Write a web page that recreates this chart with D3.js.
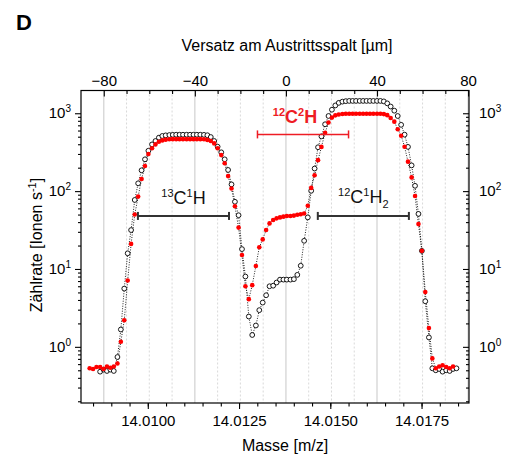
<!DOCTYPE html>
<html>
<head>
<meta charset="utf-8">
<script src="https://cdn.jsdelivr.net/npm/d3@7"></script>
<style>
  body { margin: 0; background: #fff; }
  text { font-family: "Liberation Sans", Arial, sans-serif; }
</style>
</head>
<body>
<svg id="chart" width="508" height="459"></svg>
<script>
// sample positions: offset at exit slit [µm]
var offsets = [
  -86.2, -84.7, -83.2, -81.6, -80.1, -78.6, -77.1, -75.6, -74.0, -72.5,
  -71.0, -69.5, -68.0, -66.4, -64.9, -63.4, -61.9, -60.4, -58.8, -57.3,
  -55.8, -54.3, -52.8, -51.2, -49.7, -48.2, -46.7, -45.2, -43.6, -42.1,
  -40.6, -39.1, -37.6, -36.0, -34.5, -33.0, -31.5, -30.0, -28.4, -26.9,
  -25.4, -23.9, -22.4, -20.8, -19.3, -17.8, -16.3, -14.8, -13.2, -11.7,
  -10.2, -8.7, -7.2, -5.6, -4.1, -2.6, -1.1, 0.4, 2.0, 3.5,
  5.0, 6.5, 8.0, 9.6, 11.1, 12.6, 14.1, 15.6, 17.2, 18.7,
  20.2, 21.7, 23.2, 24.8, 26.3, 27.8, 29.3, 30.8, 32.4, 33.9,
  35.4, 36.9, 38.4, 40.0, 41.5, 43.0, 44.5, 46.0, 47.6, 49.1,
  50.6, 52.1, 53.6, 55.2, 56.7, 58.2, 59.7, 61.2, 62.8, 64.3,
  65.8, 67.3, 68.8, 70.4, 71.9, 73.4, 74.9
];

// open black circles
var black = [
  null, null, null, 0.48, 0.51, 0.49, 0.51, 0.49, 0.74, 1.67,
  5.6, 15.9, 31.6, 77, 126, 185, 256, 330, 398, 440,
  486, 511, 520, 525, 528, 530, 530, 530, 530, 530,
  530, 530, 530, 528, 522, 495, 440, 372, 315, 256,
  187, 122, 73, 49, 18, 8.0, 2.45, 1.42, 1.88, 2.96,
  3.7, 4.6, 6.0, 6.1, 6.7, 7.3, 7.3, 7.3, 7.3, 7.4,
  8.4, 11, 23, 46, 101, 195, 366, 505, 722, 922,
  1110, 1260, 1360, 1410, 1430, 1440, 1440, 1440, 1440, 1440,
  1440, 1440, 1440, 1440, 1440, 1420, 1340, 1220, 1079, 922,
  710, 531, 370, 214, 117, 51, 17.1, 3.85, 1.32, 0.53,
  0.50, 0.52, 0.48, 0.50, 0.49, 0.52, 0.53
];

// filled red circles
var red = [
  0.53, 0.52, 0.55, 0.55, 0.52, 0.56, 0.54, 0.56, 0.61, 1.16,
  2.2, 7.1, 21, 50, 85, 143, 210, 300, 355, 398,
  431, 448, 458, 463, 465, 465, 465, 465, 465, 465,
  465, 465, 465, 463, 455, 440, 410, 355, 290, 228,
  156, 108, 64, 34, 15.1, 6.0, 4.1, 6.2, 10.9, 19,
  24, 31.6, 38.5, 42.5, 44.7, 46, 47, 48, 48, 48.5,
  49.7, 50.5, 51.5, 65, 110, 160, 250, 370, 560, 760,
  880, 940, 965, 978, 985, 985, 985, 985, 985, 985,
  985, 985, 985, 985, 985, 975, 945, 870, 780, 622,
  515, 372, 239, 150, 86.5, 37.7, 17.1, 5.05, 1.74, 0.71,
  0.53, 0.56, 0.58, 0.55, 0.53, 0.56, null
];

var offsetTicks = [-80, -40, 0, 40, 80];
var massTicks = [14.0100, 14.0125, 14.0150, 14.0175];
var decades = [1, 10, 100, 1000];

// resolution bars: start/end offset [µm], count level
var barFrom = [-65, -12.5, 14];
var barTo = [-25, 27.5, 54];
var barLevel = [48, 535, 48];

(function () {
  var svg = d3.select("#chart"),
      x0 = 81, x1 = 469, y0 = 90.5, y1 = 403;

  var x = d3.scaleLinear().domain([-90, 80.4]).range([x0, x1]);
  var xMass = d3.scaleLinear().domain([14.00817, 14.01880]).range([x0, x1]);
  var y = d3.scaleLog().domain([0.19, 1960]).range([y1, y0]);

  // vertical grid from the offset axis
  var gridVals = d3.range(-80, 81, 10);
  svg.append("g").selectAll("line")
    .data(gridVals)
    .enter().append("line")
      .attr("x1", function(d) { return x(d); })
      .attr("x2", function(d) { return x(d); })
      .attr("y1", y0).attr("y2", y1)
      .attr("stroke", function(d) { return d % 40 === 0 ? "#d4d4d4" : "#cfcfcf"; })
      .attr("stroke-width", function(d) { return d % 40 === 0 ? 1.3 : 0.8; })
      .attr("stroke-dasharray", function(d) { return d % 40 === 0 ? null : "2,2"; });

  function styleAxis(g) {
    g.select(".domain").remove();
    g.selectAll(".tick line").attr("stroke", "#000").attr("stroke-width", 1.1);
    g.selectAll(".tick text").attr("font-size", 15).attr("fill", "#000")
      .style("font-family", "'Liberation Sans', Arial, sans-serif");
  }

  // top axis (ticks pointing into the plot)
  svg.append("g").attr("transform", "translate(0," + y0 + ")")
    .call(d3.axisTop(x).tickValues(offsetTicks).tickSize(-6).tickPadding(4.5)
      .tickFormat(d3.format("d")))
    .call(styleAxis);
  svg.append("g").attr("transform", "translate(0," + y0 + ")")
    .call(d3.axisTop(x).tickValues(gridVals.filter(function(d) { return d % 40 !== 0; }))
      .tickSize(-3.5).tickFormat(""))
    .call(styleAxis);

  // bottom axis (ticks outside)
  svg.append("g").attr("transform", "translate(0," + y1 + ")")
    .call(d3.axisBottom(xMass).tickValues(massTicks).tickSize(6).tickPadding(6)
      .tickFormat(d3.format(".4f")))
    .call(styleAxis);
  svg.append("g").attr("transform", "translate(0," + y1 + ")")
    .call(d3.axisBottom(xMass).tickValues(d3.range(14.0085, 14.0186, 0.0005)).tickSize(3.5).tickFormat(""))
    .call(styleAxis);

  // log minor ticks
  var minorY = [];
  [-1, 0, 1, 2, 3].forEach(function(p) {
    for (var m = 2; m <= 9; m++) {
      var v = m * Math.pow(10, p);
      if (v > 0.19 && v < 1960) minorY.push(v);
    }
  });

  svg.append("g").attr("transform", "translate(" + x0 + ",0)")
    .call(d3.axisLeft(y).tickValues(decades).tickSize(6).tickFormat(""))
    .call(styleAxis);
  svg.append("g").attr("transform", "translate(" + x0 + ",0)")
    .call(d3.axisLeft(y).tickValues(minorY).tickSize(3).tickFormat(""))
    .call(styleAxis);
  svg.append("g").attr("transform", "translate(" + x1 + ",0)")
    .call(d3.axisRight(y).tickValues(decades).tickSize(-6).tickFormat(""))
    .call(styleAxis);
  svg.append("g").attr("transform", "translate(" + x1 + ",0)")
    .call(d3.axisRight(y).tickValues(minorY).tickSize(-3).tickFormat(""))
    .call(styleAxis);

  // power-of-ten labels
  function powLabel(xPos, anchor) {
    var t = svg.append("g").selectAll("text").data(decades).enter().append("text")
      .attr("x", xPos)
      .attr("y", function(d) { return y(d) + 5; })
      .attr("text-anchor", anchor)
      .attr("font-size", 15);
    t.append("tspan").text("10");
    t.append("tspan").attr("dy", -6).attr("font-size", 10)
      .text(function(d) { return Math.round(Math.log10(d)); });
  }
  powLabel(x0 - 10, "end");
  powLabel(x1 + 10, "start");

  // frame
  svg.append("rect")
    .attr("x", x0).attr("y", y0)
    .attr("width", x1 - x0).attr("height", y1 - y0)
    .attr("fill", "none").attr("stroke", "#000").attr("stroke-width", 1.2);

  // series
  function points(vals) {
    return offsets.map(function(o, i) { return { o: o, v: vals[i] }; })
      .filter(function(d) { return d.v != null; });
  }
  var line = d3.line()
    .x(function(d) { return x(d.o); })
    .y(function(d) { return y(d.v); });

  var redPts = points(red), blackPts = points(black);

  [redPts, blackPts].forEach(function(pts) {
    svg.append("path")
      .attr("d", line(pts))
      .attr("fill", "none")
      .attr("stroke", "#222")
      .attr("stroke-width", 1)
      .attr("stroke-dasharray", "1,1.5");
  });

  svg.append("g").selectAll("circle")
    .data(blackPts)
    .enter().append("circle")
      .attr("cx", function(d) { return x(d.o); })
      .attr("cy", function(d) { return y(d.v); })
      .attr("r", 2.4)
      .attr("fill", "#fff")
      .attr("stroke", "#000")
      .attr("stroke-width", 0.9);

  svg.append("g").selectAll("circle")
    .data(redPts)
    .enter().append("circle")
      .attr("cx", function(d) { return x(d.o); })
      .attr("cy", function(d) { return y(d.v); })
      .attr("r", 2.3)
      .attr("fill", "#f00");

  // resolution bars
  var barColor = ["#333", "#ee1c24", "#333"];
  barFrom.forEach(function(b, i) {
    var g = svg.append("g").attr("stroke", barColor[i]).attr("stroke-width", i === 1 ? 1.5 : 2);
    var yy = y(barLevel[i]);
    g.append("line").attr("x1", x(barFrom[i])).attr("x2", x(barTo[i])).attr("y1", yy).attr("y2", yy);
    g.append("line").attr("x1", x(barFrom[i])).attr("x2", x(barFrom[i])).attr("y1", yy - 4).attr("y2", yy + 4);
    g.append("line").attr("x1", x(barTo[i])).attr("x2", x(barTo[i])).attr("y1", yy - 4).attr("y2", yy + 4);
  });

  // isotopologue labels
  function isoLabel(xc, yb, parts, color, bold) {
    var t = svg.append("text")
      .attr("x", xc).attr("y", yb)
      .attr("text-anchor", "middle")
      .attr("fill", color)
      .attr("font-weight", bold ? "bold" : "normal");
    parts.forEach(function(p) {
      var s = t.append("tspan").text(p[0]).attr("dy", p[2]);
      s.attr("font-size", p[1] ? 11 : 18);
    });
  }
  isoLabel(x((barFrom[0] + barTo[0]) / 2), y(barLevel[0]) - 12,
    [["13", "sup", -7], ["C", "", 7], ["1", "sup", -7], ["H", "", 7]], "#111", false);
  isoLabel(x((barFrom[1] + barTo[1]) / 2) - 8, y(barLevel[1]) - 11,
    [["12", "sup", -7], ["C", "", 7], ["2", "sup", -7], ["H", "", 7]], "#ee1c24", true);
  isoLabel(x((barFrom[2] + barTo[2]) / 2), y(barLevel[2]) - 13,
    [["12", "sup", -7], ["C", "", 7], ["1", "sup", -7], ["H", "", 7], ["2", "sub", 5]], "#111", false);

  // titles
  svg.append("text").attr("x", 16).attr("y", 30)
    .attr("font-size", 22).attr("font-weight", "bold").text("D");
  svg.append("text").attr("x", 287).attr("y", 51)
    .attr("text-anchor", "middle").attr("font-size", 16)
    .text("Versatz am Austrittsspalt [µm]");
  svg.append("text").attr("x", 285).attr("y", 451)
    .attr("text-anchor", "middle").attr("font-size", 16)
    .text("Masse [m/z]");
  var yt = svg.append("text")
    .attr("transform", "translate(42,245) rotate(-90)")
    .attr("text-anchor", "middle").attr("font-size", 16);
  yt.append("tspan").text("Zählrate [Ionen s");
  yt.append("tspan").attr("font-size", 11).attr("dy", -6).text("-1");
  yt.append("tspan").attr("dy", 6).text("]");
})();
</script>
</body>
</html>
